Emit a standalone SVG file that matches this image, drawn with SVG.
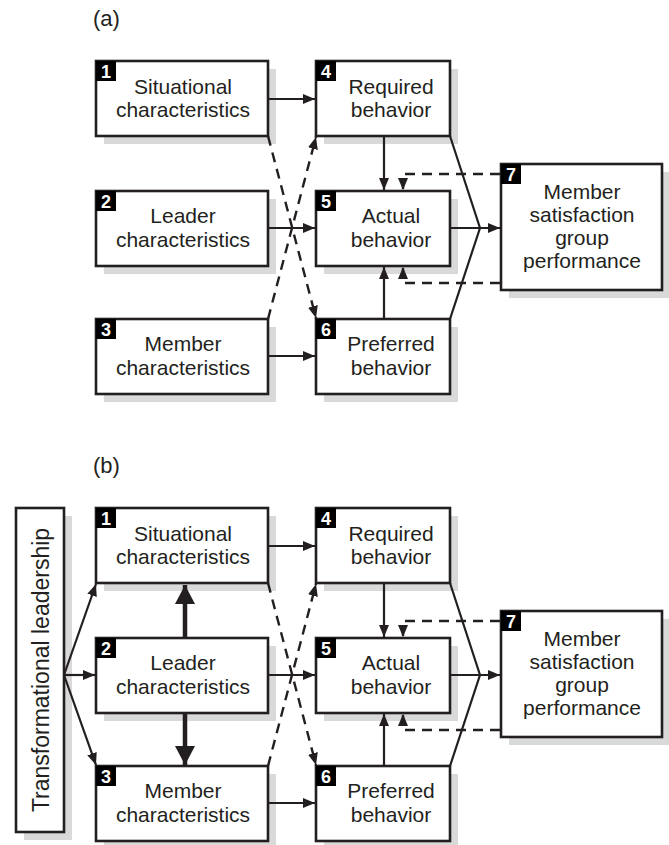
<svg xmlns="http://www.w3.org/2000/svg" width="669" height="845" viewBox="0 0 669 845">
  <style>
    .box { fill: #ffffff; stroke: #231f20; stroke-width: 2.6; }
    .shadow { fill: #d9d9d9; }
    .badge { fill: #000000; }
    .num { font-family: "Liberation Sans", Arial, sans-serif; font-size: 18px; font-weight: bold; fill: #ffffff; }
    .lbl { font-family: "Liberation Sans", Arial, sans-serif; font-size: 21px; fill: #231f20; text-anchor: middle; }
    .panel { font-family: "Liberation Sans", Arial, sans-serif; font-size: 22px; fill: #231f20; }
    .ln { fill: none; stroke: #231f20; stroke-width: 2.2; }
    .dash { fill: none; stroke: #231f20; stroke-width: 2.4; stroke-dasharray: 10 7; }
    .thick { fill: none; stroke: #231f20; stroke-width: 4.5; }
  </style>
  <defs>
    <marker id="arrow" markerUnits="userSpaceOnUse" markerWidth="12" markerHeight="10" refX="12" refY="5" orient="auto">
      <path d="M0,0 L12,5 L0,10 z" fill="#231f20"/>
    </marker>
    <marker id="arrowBig" markerUnits="userSpaceOnUse" markerWidth="19" markerHeight="20" refX="19" refY="10" orient="auto">
      <path d="M0,0 L19,10 L0,20 z" fill="#231f20"/>
    </marker>
    <!-- shared model: boxes 1-7 and their links, drawn once per panel -->
    <g id="model">
      <g id="n1">
        <rect class="shadow" x="104" y="69" width="172" height="75"/>
        <rect class="box" x="96" y="61" width="172" height="75"/>
        <rect class="badge" x="96" y="61" width="20" height="20"/>
        <text class="num" x="101" y="78">1</text>
        <text class="lbl" x="183" y="94">Situational</text>
        <text class="lbl" x="183" y="117">characteristics</text>
      </g>
      <g id="n2">
        <rect class="shadow" x="104" y="199" width="172" height="75"/>
        <rect class="box" x="96" y="191" width="172" height="75"/>
        <rect class="badge" x="96" y="191" width="20" height="20"/>
        <text class="num" x="101" y="208">2</text>
        <text class="lbl" x="183" y="223">Leader</text>
        <text class="lbl" x="183" y="247">characteristics</text>
      </g>
      <g id="n3">
        <rect class="shadow" x="104" y="327" width="172" height="75"/>
        <rect class="box" x="96" y="319" width="172" height="75"/>
        <rect class="badge" x="96" y="319" width="20" height="20"/>
        <text class="num" x="101" y="336">3</text>
        <text class="lbl" x="183" y="351">Member</text>
        <text class="lbl" x="183" y="375">characteristics</text>
      </g>
      <g id="n4">
        <rect class="shadow" x="324" y="69" width="134" height="75"/>
        <rect class="box" x="316" y="61" width="134" height="75"/>
        <rect class="badge" x="316" y="61" width="20" height="20"/>
        <text class="num" x="321" y="78">4</text>
        <text class="lbl" x="391" y="94">Required</text>
        <text class="lbl" x="391" y="117">behavior</text>
      </g>
      <g id="n5">
        <rect class="shadow" x="324" y="199" width="134" height="75"/>
        <rect class="box" x="316" y="191" width="134" height="75"/>
        <rect class="badge" x="316" y="191" width="20" height="20"/>
        <text class="num" x="321" y="208">5</text>
        <text class="lbl" x="391" y="223">Actual</text>
        <text class="lbl" x="391" y="247">behavior</text>
      </g>
      <g id="n6">
        <rect class="shadow" x="324" y="327" width="134" height="75"/>
        <rect class="box" x="316" y="319" width="134" height="75"/>
        <rect class="badge" x="316" y="319" width="20" height="20"/>
        <text class="num" x="321" y="336">6</text>
        <text class="lbl" x="391" y="351">Preferred</text>
        <text class="lbl" x="391" y="375">behavior</text>
      </g>
      <g id="n7">
        <rect class="shadow" x="509" y="172" width="161" height="126"/>
        <rect class="box" x="501" y="164" width="161" height="126"/>
        <rect class="badge" x="501" y="164" width="20" height="20"/>
        <text class="num" x="506" y="181">7</text>
        <text class="lbl" x="582" y="199">Member</text>
        <text class="lbl" x="582" y="222">satisfaction</text>
        <text class="lbl" x="582" y="245">group</text>
        <text class="lbl" x="582" y="268">performance</text>
      </g>
      <g id="links">
        <line class="ln" x1="269" y1="99" x2="315" y2="99" marker-end="url(#arrow)"/>
        <line class="ln" x1="269" y1="228" x2="315" y2="228" marker-end="url(#arrow)"/>
        <line class="ln" x1="269" y1="356" x2="315" y2="356" marker-end="url(#arrow)"/>
        <line class="ln" x1="384" y1="137" x2="384" y2="190" marker-end="url(#arrow)"/>
        <line class="ln" x1="384" y1="318" x2="384" y2="267" marker-end="url(#arrow)"/>
        <line class="dash" x1="268" y1="136" x2="316" y2="318" marker-end="url(#arrow)"/>
        <line class="dash" x1="268" y1="319" x2="316" y2="137" marker-end="url(#arrow)"/>
        <polyline class="ln" points="450,136 480,228 450,319"/>
        <line class="ln" x1="451" y1="228" x2="500" y2="228" marker-end="url(#arrow)"/>
        <polyline class="dash" points="500,174 403,174 403,190" marker-end="url(#arrow)"/>
        <polyline class="dash" points="500,283 403,283 403,267" marker-end="url(#arrow)"/>
      </g>
    </g>
  </defs>

  <text class="panel" x="93" y="26">(a)</text>
  <use href="#model"/>

  <text class="panel" x="93" y="473">(b)</text>
  <g transform="translate(0,447)">
    <use href="#model"/>
  </g>

  <g id="tl">
    <rect class="shadow" x="24" y="516" width="48" height="324"/>
    <rect class="box" x="16" y="508" width="48" height="324"/>
    <text class="lbl" transform="translate(49,670) rotate(-90)" x="0" y="0" style="font-size:23px">Transformational leadership</text>
  </g>
  <g id="tl-links">
    <line class="ln" x1="64" y1="675" x2="96" y2="584" marker-end="url(#arrow)"/>
    <line class="ln" x1="64" y1="675" x2="95" y2="675" marker-end="url(#arrow)"/>
    <line class="ln" x1="64" y1="675" x2="96" y2="765" marker-end="url(#arrow)"/>
    <line class="thick" x1="185" y1="637" x2="185" y2="585" marker-end="url(#arrowBig)"/>
    <line class="thick" x1="185" y1="713" x2="185" y2="765" marker-end="url(#arrowBig)"/>
  </g>
</svg>
